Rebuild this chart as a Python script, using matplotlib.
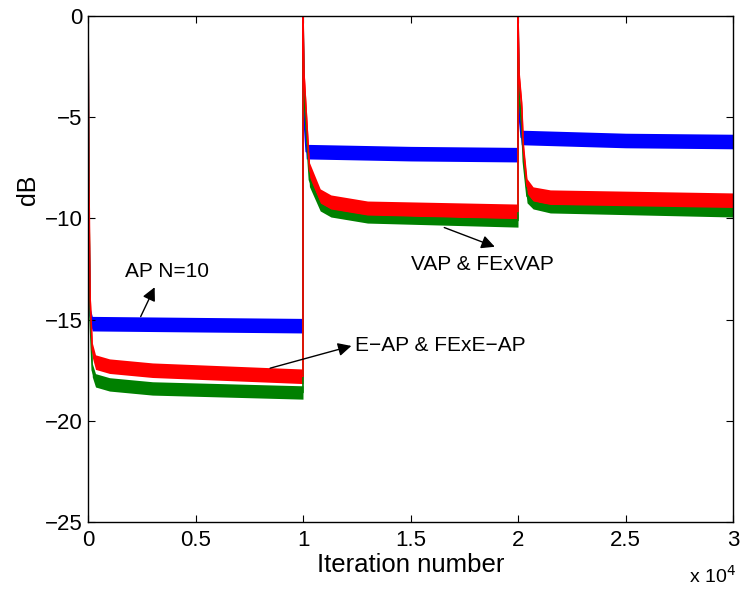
import numpy as np
import matplotlib
matplotlib.use('Agg')
import matplotlib.pyplot as plt

plt.rcParams['font.family'] = ['Liberation Sans', 'DejaVu Sans']

# AP N=10 (blue)
ap_iter = [0, 40, 100, 200, 5000, 9999,
           10000, 10050, 10150, 15000, 19999,
           20000, 20050, 20150, 25000, 30000]
ap_db = [0, -10, -14.8, -15.2, -15.25, -15.3,
         0, -5.0, -6.7, -6.8, -6.85,
         0, -4.8, -6.0, -6.15, -6.2]

# E-AP / VAP (red) and FExE-AP / FExVAP (green) share the same iteration grid
ev_iter = [0, 40, 100, 200, 350, 1000, 3000, 9999,
           10000, 10050, 10300, 10800, 11300, 13000, 19999,
           20000, 20050, 20180, 20250, 20420, 20700, 21500, 30000]
eap_db = [0, -8, -14, -16.5, -17.1, -17.3, -17.5, -17.8,
          0, -3, -7.6, -8.9, -9.2, -9.5, -9.65,
          0, -3.0, -4.6, -6.6, -8.4, -8.8, -8.95, -9.1]
fex_db = [0, -9, -15, -17.5, -18.0, -18.2, -18.4, -18.6,
          0, -4, -8.1, -9.3, -9.6, -9.9, -10.1,
          0, -4.0, -5.5, -7.2, -8.9, -9.2, -9.4, -9.6]

# noise band half widths (dB)
noise = {'ap': 0.36, 'eap': 0.36, 'fex': 0.33}

xticks = [0, 5000, 10000, 15000, 20000, 25000, 30000]
xticklabels = ['0', '0.5', '1', '1.5', '2', '2.5', '3']
yticks = [0, -5, -10, -15, -20, -25]

fig = plt.figure(figsize=(7.42, 5.94), dpi=100)
ax = fig.add_axes([0.1186, 0.1212, 0.8693, 0.8518])

series = [(ap_iter, ap_db, noise['ap'], (0, 0, 1)),
          (ev_iter, fex_db, noise['fex'], (0, 0.5, 0)),
          (ev_iter, eap_db, noise['eap'], (1, 0, 0))]
for xs, ys, hw, c in series:
    xs = np.array(xs)
    ys = np.array(ys)
    ax.fill_between(xs, ys - hw, ys + hw, color=c, lw=0)
    ax.plot(xs, ys, color=c, lw=1.2)

ax.set_xlim(0, 30000)
ax.set_ylim(-25, 0)
ax.set_xticks(xticks)
ax.set_xticklabels(xticklabels)
ax.set_yticks(yticks)
ax.tick_params(direction='in', top=True, right=True, length=5, labelsize=16)
ax.tick_params(axis='x', pad=6)
ax.tick_params(axis='y', pad=4)
for s in ax.spines.values():
    s.set_linewidth(1.0)

ax.set_xlabel('Iteration number', fontsize=18.5, labelpad=1)
ax.set_ylabel('dB', fontsize=18)
ax.yaxis.set_label_coords(-0.075, 0.656)
ax.text(1.005, -0.085, r'x 10$^{4}$', transform=ax.transAxes, fontsize=14,
        ha='right', va='top')

arrow = dict(arrowstyle='-|>', color='black', lw=1.0,
             mutation_scale=20, shrinkA=0, shrinkB=0)
ax.annotate('', xy=(3100, -13.4), xytext=(2450, -14.85), arrowprops=arrow)
ax.text(1720, -12.6, 'AP N=10', fontsize=15, va='center', ha='left')

ax.annotate('', xy=(12250, -16.3), xytext=(8470, -17.4), arrowprops=arrow)
ax.text(12400, -16.3, 'E\u2212AP & FExE\u2212AP', fontsize=15, va='center', ha='left')

ax.annotate('', xy=(18920, -11.4), xytext=(16570, -10.45), arrowprops=arrow)
ax.text(15000, -12.3, 'VAP & FExVAP', fontsize=15, va='center', ha='left')

fig.savefig('out.png', dpi=100)
